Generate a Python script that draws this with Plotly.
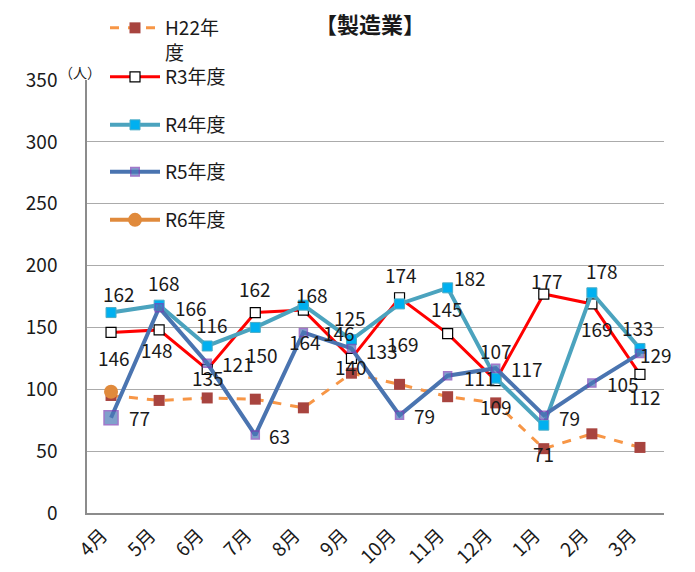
import plotly.graph_objects as go

months = ["4月", "5月", "6月", "7月", "8月", "9月", "10月", "11月", "12月", "1月", "2月", "3月"]
h22 = [95, 91, 93, 92, 85, 113, 104, 94, 89, 52, 64, 53]
r3 = [146, 148, 116, 162, 164, 125, 174, 145, 107, 177, 169, 112]
r4 = [162, 168, 135, 150, 168, 140, 169, 182, 109, 71, 178, 133]
r5 = [77, 166, 121, 63, 146, 133, 79, 111, 117, 79, 105, 129]
r6 = [98]
y_ticks = [0, 50, 100, 150, 200, 250, 300, 350]

FONT = "Noto Sans CJK JP, sans-serif"
INK = "#1a1a1a"

# data-label offsets in pixels (dx right, dy down) — styling only
r3_off = [(3, 25), (-2, 20), (5, -45), (0, -24), (2, 31), (-1, -41),
          (1, -23), (-1, -25), (0, -30), (3, -14), (5, 25), (5, 22)]
r4_off = [(8, -19), (5, -23), (1, 32), (7, 27), (9, -11), (0, 27),
          (3, 40), (22, -10), (0, 28), (0, 28), (10, -22), (-2, -21)]
r5_off = [(28, 0), (32, 0), (31, 0), (24, 0), (36, 0), (31, 2),
          (25, 0), (32, 2), (31, 0), (26, 2), (31, 0), (16, 1)]
r5_sizes = [14] + [8] * 11

fig = go.Figure()
fig.add_trace(go.Scatter(
    x=months, y=h22, name="H22年<br>度", mode="lines+markers",
    line=dict(color="#F79646", width=3, dash="dash"),
    marker=dict(symbol="square", size=11, color="#A8443F"),
    legend="legend"))
fig.add_trace(go.Scatter(
    x=months, y=r3, name="R3年度", mode="lines+markers",
    line=dict(color="#FF0000", width=3),
    marker=dict(symbol="square", size=10, color="white", line=dict(color="black", width=1.2)),
    legend="legend2"))
fig.add_trace(go.Scatter(
    x=months, y=r4, name="R4年度", mode="lines+markers",
    line=dict(color="#4BA3BE", width=4),
    marker=dict(symbol="square", size=10, color="#00B0F0", line=dict(color="#4BACC6", width=1)),
    legend="legend3"))
fig.add_trace(go.Scatter(
    x=months, y=r5, name="R5年度", mode="lines+markers",
    line=dict(color="#4A74B0", width=4),
    marker=dict(symbol="square", size=r5_sizes, color="#4A78B6", line=dict(color="#7B3FB5", width=1.5)),
    legend="legend4"))
fig.add_trace(go.Scatter(
    x=months[:len(r6)], y=r6, name="R6年度", mode="lines+markers",
    line=dict(color="#E08A3C", width=4),
    marker=dict(symbol="circle", size=14, color="#E08A3C"),
    legend="legend5"))

# page body has an 8px margin: layout numbers are screen pixels minus 8
OFF = 8
W, H = 695, 572
L, R, T, B = 87 - OFF, 695 - 664 + OFF, 80 - OFF, 572 - 513 + OFF
PW, PH = W - L - R, H - T - B

def sx(px):
    return (px - OFF - L) / PW

def sy(px):
    return (H - B - (px - OFF)) / PH

annotations = []
for vals, offs in ((r3, r3_off), (r4, r4_off), (r5, r5_off)):
    for m, v, (dx, dy) in zip(months, vals, offs):
        annotations.append(dict(
            x=m, y=v, xref="x", yref="y", text=str(v), showarrow=False,
            xanchor="center", yanchor="middle", xshift=dx, yshift=-dy,
            font=dict(family=FONT, size=19, color=INK)))

annotations.append(dict(text="<b>【製造業】</b>", x=sx(370), y=sy(23), xref="paper", yref="paper",
                        xanchor="center", yanchor="middle", showarrow=False,
                        font=dict(family=FONT, size=22, color=INK)))
annotations.append(dict(text="（人）", x=sx(80), y=sy(72), xref="paper", yref="paper",
                        xanchor="center", yanchor="middle", showarrow=False,
                        font=dict(family=FONT, size=14, color=INK)))

leg_common = dict(x=sx(105), xanchor="left", bgcolor="rgba(0,0,0,0)",
                  font=dict(family=FONT, size=19, color=INK), itemwidth=50)

fig.update_layout(
    width=W, height=H,
    margin=dict(l=L, r=R, t=T, b=B, autoexpand=False),
    paper_bgcolor="white", plot_bgcolor="white",
    font=dict(family=FONT, color=INK),
    showlegend=True,
    legend=dict(**leg_common, y=sy(9), yanchor="top", valign="top"),
    legend2=dict(**leg_common, y=sy(77), yanchor="middle"),
    legend3=dict(**leg_common, y=sy(125), yanchor="middle"),
    legend4=dict(**leg_common, y=sy(172), yanchor="middle"),
    legend5=dict(**leg_common, y=sy(220), yanchor="middle"),
    annotations=annotations,
)

fig.update_xaxes(
    range=[-0.5, len(months) - 0.5],
    showgrid=False, showline=True, linecolor="#8C8C8C", linewidth=1.5,
    tickangle=-45, tickfont=dict(family=FONT, size=19, color=INK),
    ticks="", ticklabelstandoff=2, ticklabelshift=-9)
fig.update_yaxes(
    range=[0, 350], tickvals=y_ticks, showgrid=True, gridcolor="#ABABAB", gridwidth=1.2,
    showline=True, linecolor="#8C8C8C", linewidth=1.5, zeroline=False,
    tickfont=dict(family=FONT, size=19, color=INK), ticks="", ticklabelstandoff=24)

fig.write_html("out.html")
